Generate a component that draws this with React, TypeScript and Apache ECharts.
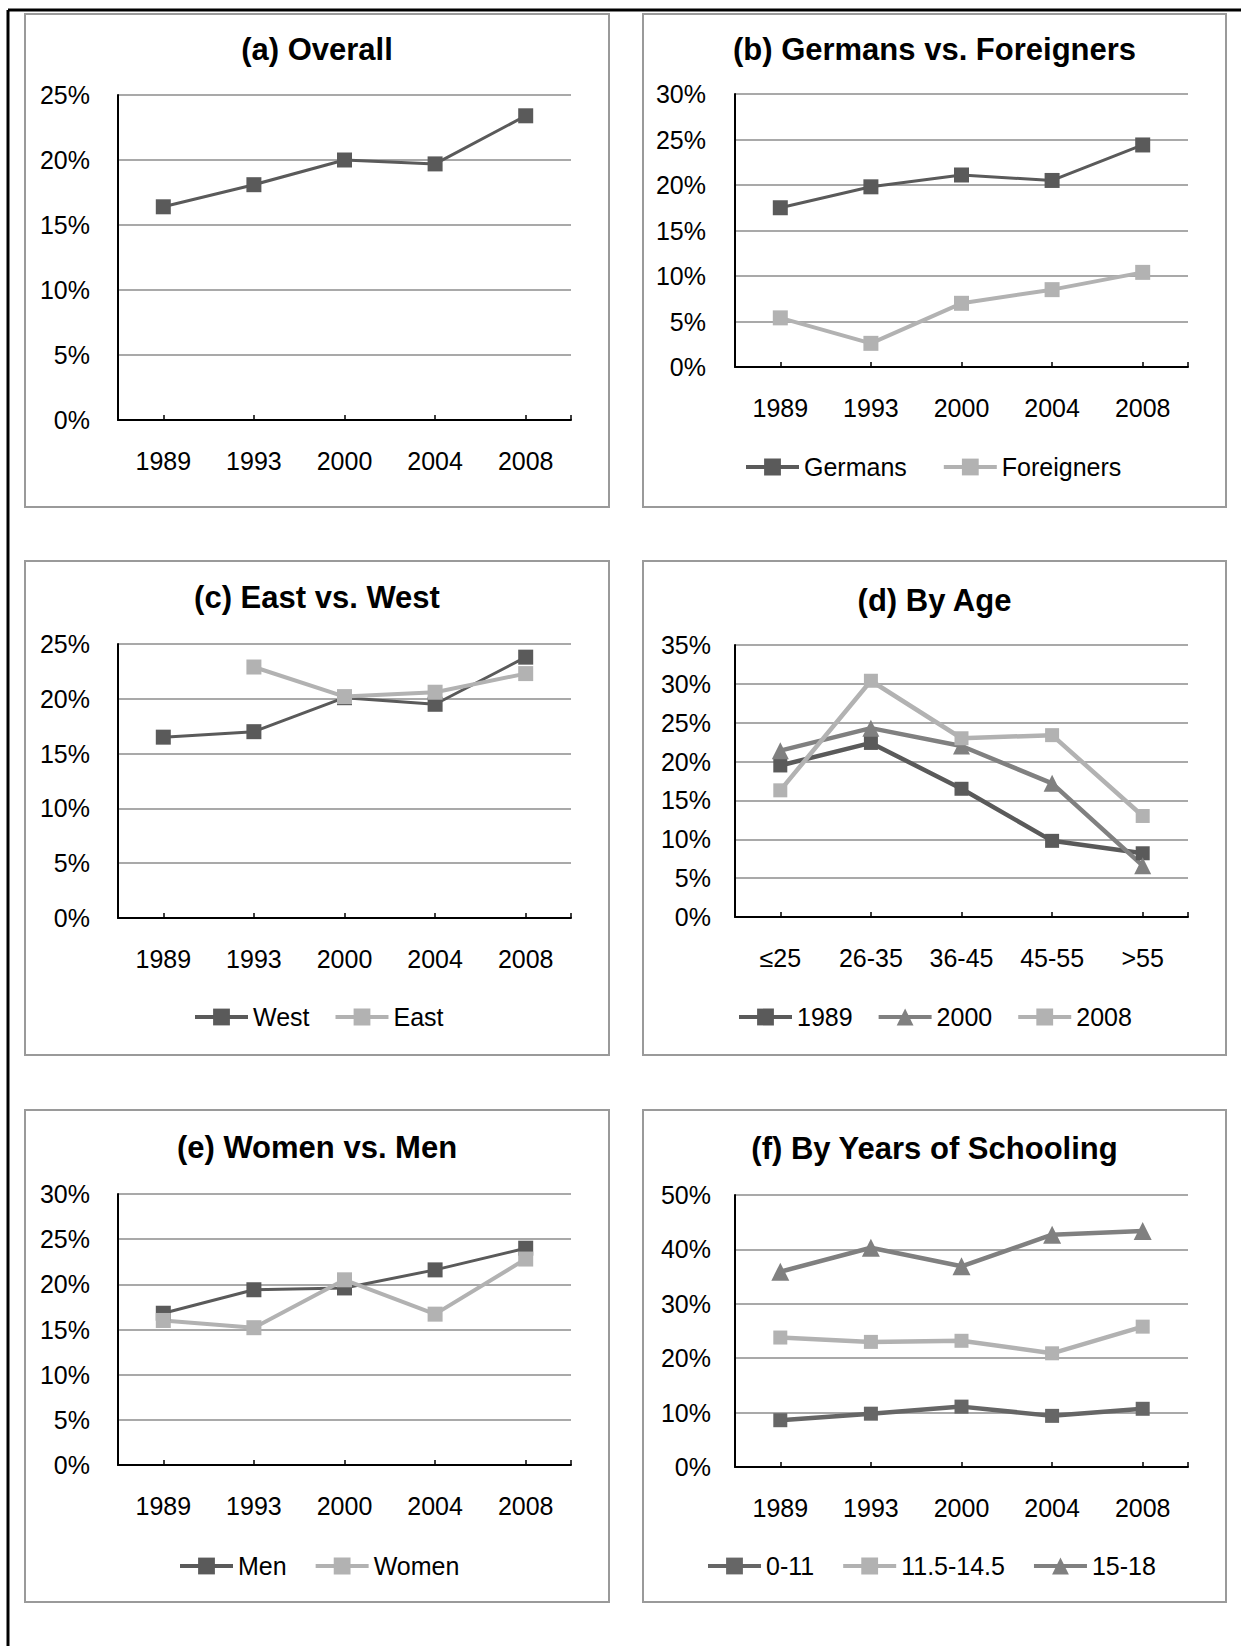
import React, { useEffect, useRef } from "react";
import * as echarts from "echarts";

// ---------- data ----------
const years = ["1989", "1993", "2000", "2004", "2008"];
const ageGroups = ["≤25", "26-35", "36-45", "45-55", ">55"];

const overall = [16.4, 18.1, 20.0, 19.7, 23.4];
const germans = [17.5, 19.8, 21.1, 20.5, 24.4];
const foreigners = [5.4, 2.6, 7.0, 8.5, 10.4];
const west = [16.5, 17.0, 20.1, 19.5, 23.8];
const east = [null, 22.9, 20.2, 20.6, 22.3];
const age1989 = [19.5, 22.4, 16.5, 9.8, 8.2];
const age2000 = [21.4, 24.3, 22.0, 17.2, 6.6];
const age2008 = [16.3, 30.4, 23.0, 23.4, 13.0];
const men = [16.8, 19.4, 19.6, 21.6, 24.0];
const women = [16.0, 15.2, 20.5, 16.7, 22.8];
const school0to11 = [8.6, 9.8, 11.1, 9.4, 10.7];
const school11to14 = [23.8, 23.0, 23.2, 20.9, 25.8];
const school15to18 = [35.9, 40.3, 36.9, 42.7, 43.4];

const titles = [
  "(a) Overall",
  "(b) Germans vs. Foreigners",
  "(c) East vs. West",
  "(d) By Age",
  "(e) Women vs. Men",
  "(f) By Years of Schooling",
];
const yMax = [25, 30, 25, 35, 30, 50];
const yStep = [5, 5, 5, 5, 5, 10];

// ---------- styles ----------
const DARK = "#5a5a5a";
const MID = "#808080";
const LIGHT = "#b2b2b2";
const FONT = "'Liberation Sans', Arial, sans-serif";

type S = { name: string; data: (number | null)[]; color: string; symbol: string; size: number; width: number };

const panelSeries: S[][] = [
  [{ name: "Overall", data: overall, color: DARK, symbol: "rect", size: 15, width: 3 }],
  [
    { name: "Germans", data: germans, color: DARK, symbol: "rect", size: 15, width: 3 },
    { name: "Foreigners", data: foreigners, color: LIGHT, symbol: "rect", size: 15, width: 4 },
  ],
  [
    { name: "West", data: west, color: DARK, symbol: "rect", size: 15, width: 3 },
    { name: "East", data: east, color: LIGHT, symbol: "rect", size: 15, width: 4 },
  ],
  [
    { name: "1989", data: age1989, color: DARK, symbol: "rect", size: 14, width: 4.5 },
    { name: "2000", data: age2000, color: MID, symbol: "triangle", size: 17, width: 4.5 },
    { name: "2008", data: age2008, color: LIGHT, symbol: "rect", size: 14, width: 4.5 },
  ],
  [
    { name: "Men", data: men, color: DARK, symbol: "rect", size: 15, width: 3 },
    { name: "Women", data: women, color: LIGHT, symbol: "rect", size: 15, width: 4 },
  ],
  [
    { name: "0-11", data: school0to11, color: "#666666", symbol: "rect", size: 14, width: 4.5 },
    { name: "11.5-14.5", data: school11to14, color: LIGHT, symbol: "rect", size: 14, width: 4.5 },
    { name: "15-18", data: school15to18, color: MID, symbol: "triangle", size: 18, width: 4.5 },
  ],
];
const panelCats = [years, years, years, ageGroups, years, years];

// ---------- layout ----------
const layout = [
  { box: [25, 14, 609, 507], g: [118, 95, 571, 420], titleY: 51, legend: null, labelGap: 28 },
  { box: [643, 14, 1226, 507], g: [735, 94, 1188, 367], titleY: 51, legend: [744, 465, 35], labelGap: 29 },
  { box: [25, 561, 609, 1055], g: [118, 644, 571, 918], titleY: 599, legend: [193, 1015, 24], labelGap: 28 },
  { box: [643, 561, 1226, 1055], g: [735, 645, 1188, 917], titleY: 602, legend: [737, 1015, 24], labelGap: 24 },
  { box: [25, 1110, 609, 1602], g: [118, 1194, 571, 1465], titleY: 1149, legend: [178, 1564, 27], labelGap: 28 },
  { box: [643, 1110, 1226, 1602], g: [735, 1195, 1188, 1467], titleY: 1150, legend: [706, 1564, 27], labelGap: 24 },
];

export default function App() {
  const ref = useRef<HTMLDivElement>(null);
  useEffect(() => {
    if (!ref.current) return;
    const chart = echarts.init(ref.current, null, { renderer: "svg" });

    const grid: any[] = [];
    const xAxis: any[] = [];
    const yAxis: any[] = [];
    const series: any[] = [];
    const title: any[] = [];
    const legend: any[] = [];
    const graphic: any[] = [];

    layout.forEach((p, i) => {
      const [gl, gt, gr, gb] = p.g;
      grid.push({ left: gl, top: gt, width: gr - gl, height: gb - gt, containLabel: false, outerBoundsMode: "none" });
      xAxis.push({
        type: "category",
        gridIndex: i,
        data: panelCats[i],
        boundaryGap: true,
        axisLine: { show: true, lineStyle: { color: "#000", width: 2 } },
        axisTick: { show: true, inside: true, length: 5, alignWithLabel: true, lineStyle: { color: "#000", width: 1.5 } },
        axisLabel: { margin: 28, fontSize: 25, color: "#000", fontFamily: FONT, interval: 0 },
        splitLine: { show: false },
        z: 5,
      });
      yAxis.push({
        type: "value",
        gridIndex: i,
        min: 0,
        max: yMax[i],
        interval: yStep[i],
        axisLine: { show: true, lineStyle: { color: "#000", width: 2 } },
        axisTick: { show: false },
        axisLabel: { margin: p.labelGap, fontSize: 25, color: "#000", fontFamily: FONT, formatter: "{value}%" },
        splitLine: { show: true, lineStyle: { color: "#8c8c8c", width: 1.5 } },
        z: 5,
      });
      panelSeries[i].forEach((s) => {
        series.push({
          type: "line",
          name: s.name,
          xAxisIndex: i,
          yAxisIndex: i,
          data: s.data,
          symbol: s.symbol,
          symbolSize: s.size,
          showSymbol: true,
          connectNulls: false,
          color: s.color,
          lineStyle: { color: s.color, width: s.width },
          itemStyle: { color: s.color },
          emphasis: { disabled: true },
          z: 10,
        });
      });
      title.push({
        text: titles[i],
        left: (p.box[0] + p.box[2]) / 2,
        top: p.titleY - 17,
        textAlign: "center",
        padding: 0,
        textStyle: { fontSize: 31, fontWeight: "bold", color: "#000", fontFamily: FONT },
      });
      if (p.legend) {
        legend.push({
          data: panelSeries[i].map((s) => s.name),
          left: p.legend[0],
          top: p.legend[1] - 10.5,
          orient: "horizontal",
          padding: 0,
          itemGap: p.legend[2],
          itemWidth: 53,
          itemHeight: 21,
          selectedMode: false,
          lineStyle: { width: 4 },
          textStyle: { fontSize: 25, color: "#000", fontFamily: FONT },
        });
      }
      const [bx0, by0, bx1, by1] = p.box;
      graphic.push({
        type: "rect",
        shape: { x: bx0, y: by0, width: bx1 - bx0, height: by1 - by0 },
        style: { fill: "none", stroke: "#9a9a9a", lineWidth: 2 },
        z: 0,
        silent: true,
      });
      graphic.push({
        type: "line",
        shape: { x1: gr, y1: gb - 5, x2: gr, y2: gb },
        style: { stroke: "#000", lineWidth: 1.5 },
        z: 100,
        silent: true,
      });
    });

    graphic.push({
      type: "line",
      shape: { x1: 8, y1: 10, x2: 1241, y2: 10 },
      style: { stroke: "#000", lineWidth: 3 },
      silent: true,
    });
    graphic.push({
      type: "line",
      shape: { x1: 8, y1: 10, x2: 8, y2: 1646 },
      style: { stroke: "#000", lineWidth: 3 },
      silent: true,
    });

    chart.setOption({
      animation: false,
      backgroundColor: "#ffffff",
      title,
      legend,
      grid,
      xAxis,
      yAxis,
      series,
      graphic,
    });
    return () => chart.dispose();
  }, []);
  return (
    <div
      ref={ref}
      style={{ position: "absolute", left: 0, top: 0, width: 1241, height: 1646, background: "#fff" }}
    />
  );
}
